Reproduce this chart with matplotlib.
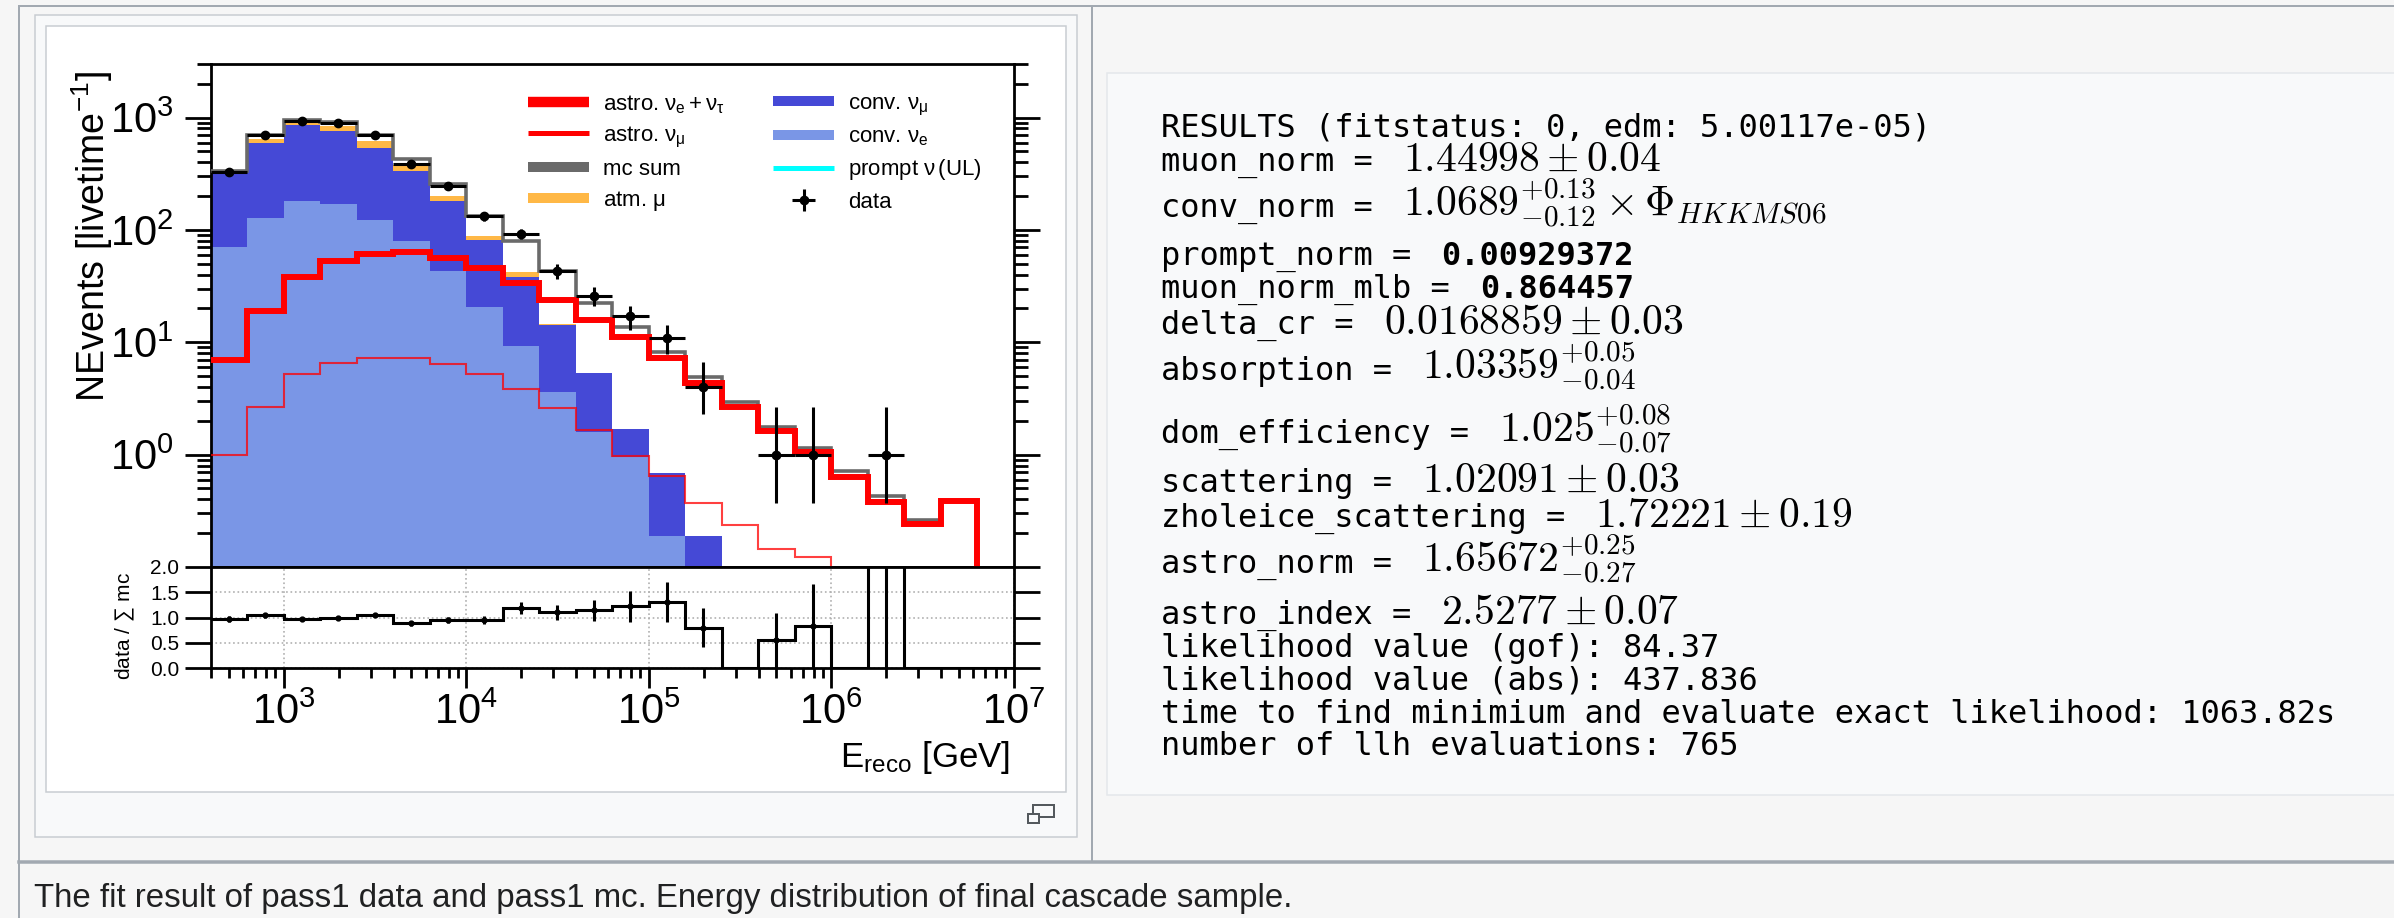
import numpy as np
import matplotlib
matplotlib.use("Agg")
import matplotlib.pyplot as plt
from matplotlib.patches import Rectangle
from matplotlib.lines import Line2D
from matplotlib.ticker import FixedLocator, LogLocator, NullFormatter, LogFormatterSciNotation

plt.rcParams['font.family'] = ['Liberation Sans', 'DejaVu Sans']
plt.rcParams['font.sans-serif'] = ['Liberation Sans']
plt.rcParams['mathtext.fontset'] = 'custom'
plt.rcParams['mathtext.rm'] = 'Liberation Sans'
plt.rcParams['mathtext.it'] = 'Liberation Sans'
plt.rcParams['mathtext.bf'] = 'Liberation Sans:bold'
plt.rcParams['mathtext.sf'] = 'Liberation Sans'

W, H = 2394, 918

# ---------------- data ----------------
log10_bin_edges = [2.6, 2.8, 3.0, 3.2, 3.4, 3.6, 3.8, 4.0, 4.2, 4.4, 4.6, 4.8,
                   5.0, 5.2, 5.4, 5.6, 5.8, 6.0, 6.2, 6.4, 6.6, 6.8, 7.0]
conv_nue = [71, 128, 180, 171, 122, 79, 43, 20.5, 9.3, 3.6, 1.6, 0.96, 0.19,
            0, 0, 0, 0, 0, 0, 0, 0, 0]
conv_numu = [251, 470, 673, 589, 417, 254, 137, 61.5, 28.7, 10.6, 3.7, 0.74, 0.49,
             0.19, 0, 0, 0, 0, 0, 0, 0, 0]
atm_mu = [8, 51, 36, 82, 79, 42, 19, 7, 4, 0.3, 0, 0, 0, 0, 0, 0, 0, 0, 0, 0, 0, 0]
mc_sum = [333, 695, 953, 920, 695, 430, 259, 134, 79, 43, 22.5, 13.7, 8.2, 4.9,
          2.94, 1.78, 1.15, 0.71, 0.43, 0.26, 0.39, 0]
astro_nue_nutau = [6.9, 19.1, 38.4, 53.4, 61.3, 63, 56, 45.6, 34, 23.8, 15.7, 11.2,
                   7.2, 4.3, 2.65, 1.62, 1.05, 0.63, 0.38, 0.24, 0.39, 0]
astro_numu = [1.0, 2.65, 5.19, 6.55, 7.3, 7.26, 6.46, 5.19, 3.86, 2.61, 1.67, 0.98,
              0.64, 0.375, 0.237, 0.144, 0.123, 0, 0, 0, 0, 0]
data = [327, 695, 933, 901, 695, 383, 248, 132, 92, 43, 26, 17, 11, 4, 0, 1, 1, 0,
        1, 0, 0, 0]
data_err_lo = [18, 26, 31, 30, 26, 20, 16, 11.5, 9.6, 6.5, 5, 4.1, 3.2, 1.7, 0,
               0.63, 0.63, 0, 0.63, 0, 0, 0]
data_err_hi = [18, 26, 31, 30, 26, 20, 16, 11.5, 9.6, 6.5, 5, 4.1, 3.3, 2.7, 0,
               1.65, 1.65, 0, 1.65, 0, 0, 0]
ratio = [0.97, 1.04, 0.97, 1.0, 1.05, 0.885, 0.95, 0.95, 1.18, 1.1, 1.14, 1.22,
         1.31, 0.80, 0, 0.55, 0.84, 0, 2.3, 0, 0, 0]
ratio_err_lo = [0.05, 0.04, 0.03, 0.03, 0.04, 0.05, 0.06, 0.08, 0.12, 0.15, 0.2,
                0.3, 0.4, 0.39, 0, 0.55, 0.84, 0, 2.3, 0, 0, 0]
ratio_err_hi = [0.05, 0.04, 0.03, 0.03, 0.04, 0.05, 0.06, 0.08, 0.12, 0.15, 0.2,
                0.3, 0.4, 0.39, 0, 0.54, 0.82, 0, 2.0, 0, 0, 0]

legend_labels_1 = [r"astro. $\nu_{\rm e}+\nu_{\tau}$", r"astro. $\nu_{\mu}$",
                   "mc sum", r"atm. $\mu$"]
legend_labels_2 = [r"conv. $\nu_{\mu}$", r"conv. $\nu_{\rm e}$",
                   r"prompt $\nu\,$(UL)", "data"]

result_lines = [
    ("RESULTS (fitstatus: 0, edm: 5.00117e-05)", None, 136.7, "math"),
    ("muon_norm = ", r"$1.44998\pm0.04$", 171.3, "math"),
    ("conv_norm = ", r"$1.0689^{+0.13}_{-0.12}\times\Phi_{HKKMS06}$", 217.3, "math"),
    ("prompt_norm = ", "0.00929372", 265.0, "bold"),
    ("muon_norm_mlb = ", "0.864457", 298.3, "bold"),
    ("delta_cr = ", r"$0.0168859\pm0.03$", 334.0, "math"),
    ("absorption = ", r"$1.03359^{+0.05}_{-0.04}$", 380.0, "math"),
    ("dom_efficiency = ", r"$1.025^{+0.08}_{-0.07}$", 442.7, "math"),
    ("scattering = ", r"$1.02091\pm0.03$", 491.7, "math"),
    ("zholeice_scattering = ", r"$1.72221\pm0.19$", 527.3, "math"),
    ("astro_norm = ", r"$1.65672^{+0.25}_{-0.27}$", 573.3, "math"),
    ("astro_index = ", r"$2.5277\pm0.07$", 624.3, "math"),
    ("likelihood value (gof): 84.37", None, 657.3, "math"),
    ("likelihood value (abs): 437.836", None, 690.0, "math"),
    ("time to find minimium and evaluate exact likelihood: 1063.82s", None, 723.3, "math"),
    ("number of llh evaluations: 765", None, 755.0, "math"),
]
caption = "The fit result of pass1 data and pass1 mc. Energy distribution of final cascade sample."

# ---------------- colours ----------------
c_nue = '#7a96e6'
c_numu = '#4549d6'
c_mu = '#ffb846'
c_sum = '#6a6a6a'
c_red = '#ff0000'
c_prompt = '#00ffff'


def fx(x):
    return x / W


def fy(y):
    return 1 - y / H


fig = plt.figure(figsize=(W / 100, H / 100), dpi=100, facecolor='#f6f6f6')


def rect(x0, y0, x1, y1, fc, ec, lw=1.0, z=-5):
    r = Rectangle((fx(x0), fy(y1)), fx(x1) - fx(x0), fy(y0) - fy(y1),
                  transform=fig.transFigure, facecolor=fc, edgecolor=ec,
                  linewidth=lw * 0.72, zorder=z)
    fig.add_artist(r)


def hline(x0, x1, y, color, lw, z=-4):
    fig.add_artist(Line2D([fx(x0), fx(x1)], [fy(y), fy(y)], transform=fig.transFigure,
                          color=color, linewidth=lw * 0.72, zorder=z))


def vline(x, y0, y1, color, lw, z=-4):
    fig.add_artist(Line2D([fx(x), fx(x)], [fy(y0), fy(y1)], transform=fig.transFigure,
                          color=color, linewidth=lw * 0.72, zorder=z))


# page furniture
rect(35, 15, 1077, 837, '#f8f9fa', '#c8ccd1', 1.5)
rect(46, 26, 1066, 792, 'white', '#c8ccd1', 1.5)
rect(1107, 73, 2420, 795, '#f8f9fa', '#e4e7eb', 1.5)
hline(19, 2394, 6, '#a2a9b1', 2)
vline(19, 6, 918, '#a2a9b1', 2)
vline(1092, 6, 862, '#a2a9b1', 2)
hline(19, 2394, 862, '#a2a9b1', 3.5)
rect(1033, 805, 1054, 817, 'none', '#54595d', 2, z=-3)
rect(1028, 814, 1039, 823, '#f8f9fa', '#54595d', 2, z=-2)

# ---------------- axes ----------------
ax_l, ax_r = 210.7, 1013.7
ax = fig.add_axes([fx(ax_l), fy(567), (ax_r - ax_l) / W, (567 - 64) / H])
axr = fig.add_axes([fx(ax_l), fy(668), (ax_r - ax_l) / W, (668 - 567) / H], sharex=ax)

edges = 10 ** np.array(log10_bin_edges)
centers = 10 ** ((np.array(log10_bin_edges[:-1]) + np.array(log10_bin_edges[1:])) / 2)
floor = 1e-4

b1 = np.maximum(np.array(conv_nue, float), floor)
b2 = np.maximum(np.array(conv_nue) + np.array(conv_numu), floor)
b3 = np.maximum(np.array(conv_nue) + np.array(conv_numu) + np.array(atm_mu), floor)
ax.stairs(b1, edges, baseline=floor, fill=True, facecolor=c_nue, linewidth=0, zorder=1)
ax.stairs(b2, edges, baseline=b1, fill=True, facecolor=c_numu, linewidth=0, zorder=1.1)
ax.stairs(b3, edges, baseline=b2, fill=True, facecolor=c_mu, linewidth=0, zorder=1.2)
ax.stairs(np.maximum(np.array(mc_sum, float), floor), edges, baseline=None,
          color=c_sum, linewidth=2.6, zorder=3)
ax.stairs(np.maximum(np.array(astro_numu, float), floor), edges, baseline=None,
          color=c_red, alpha=0.75, linewidth=1.5, zorder=3.5)
ax.stairs(np.maximum(np.array(astro_nue_nutau, float), floor), edges, baseline=None,
          color=c_red, linewidth=4.3, zorder=4)

d = np.array(data, float)
m = d > 0
xlo = (centers - edges[:-1])[m]
xhi = (edges[1:] - centers)[m]
eb = ax.errorbar(centers[m], d[m], xerr=[xlo, xhi],
                 yerr=[np.array(data_err_lo)[m], np.array(data_err_hi)[m]],
                 fmt='o', color='k', ms=6, elinewidth=2.2, capsize=0, zorder=6)

ax.set_xscale('log')
ax.set_yscale('log')
ax.set_xlim(edges[0], 1e7)
ax.set_ylim(0.1, 3000)

ax.yaxis.set_major_locator(FixedLocator([1, 10, 100, 1000]))
ax.yaxis.set_major_formatter(LogFormatterSciNotation())
ax.yaxis.set_minor_locator(LogLocator(base=10, subs=np.arange(2, 10), numticks=100))
ax.yaxis.set_minor_formatter(NullFormatter())

for a in (ax, axr):
    for s in a.spines.values():
        s.set_linewidth(2.0)
    a.tick_params(which='both', direction='out', width=2.0, left=True, right=True,
                  top=False, labelright=False)

ax.tick_params(axis='y', which='major', length=18.5, labelsize=30, pad=8)
ax.tick_params(axis='y', which='minor', length=10)
ax.tick_params(axis='x', which='both', bottom=False, labelbottom=False)

# legend
h1 = [Line2D([], [], color=c_red, lw=7.5, solid_capstyle='butt'),
      Line2D([], [], color=c_red, lw=3.6, solid_capstyle='butt'),
      Line2D([], [], color=c_sum, lw=7.2, solid_capstyle='butt'),
      Line2D([], [], color=c_mu, lw=7.2, solid_capstyle='butt')]
h2 = [Line2D([], [], color=c_numu, lw=7.2, solid_capstyle='butt'),
      Line2D([], [], color=c_nue, lw=7.2, solid_capstyle='butt'),
      Line2D([], [], color=c_prompt, lw=3.6, solid_capstyle='butt'),
      eb]
legkw = dict(loc='upper left', frameon=False, fontsize=16, handlelength=2.75,
             handletextpad=0.63, labelspacing=0.41, borderpad=0, borderaxespad=0)
l1 = ax.legend(h1, legend_labels_1, bbox_to_anchor=((528 - ax_l) / 803, (567 - 93) / 503), **legkw)
ax.add_artist(l1)
l2 = ax.legend(h2, legend_labels_2, bbox_to_anchor=((773 - ax_l) / 803, (567 - 93) / 503), **legkw)

ax.set_ylabel(r"NEvents [livetime$^{-1}$]", fontsize=27)
ax.yaxis.set_label_coords((115 - ax_l) / 803, (567 - 236.5) / 503)

# ratio panel
r = np.array(ratio, float)
axr.stairs(r, edges, baseline=None, color='k', linewidth=2.2, zorder=4)
mr = d > 0
axr.errorbar(centers[mr], r[mr],
             yerr=[np.array(ratio_err_lo)[mr], np.array(ratio_err_hi)[mr]],
             fmt='o', color='k', ms=3.5, elinewidth=2.2, capsize=0, zorder=5)
axr.set_ylim(0, 2.0)
axr.set_yticks([0.0, 0.5, 1.0, 1.5, 2.0])
axr.set_yticklabels(['0.0', '0.5', '1.0', '1.5', '2.0'])
axr.xaxis.set_major_locator(LogLocator(base=10, numticks=20))
axr.xaxis.set_major_formatter(LogFormatterSciNotation())
axr.xaxis.set_minor_locator(LogLocator(base=10, subs=np.arange(2, 10), numticks=100))
axr.xaxis.set_minor_formatter(NullFormatter())
axr.tick_params(axis='y', which='major', length=18.5, labelsize=15, pad=4)
axr.tick_params(axis='x', which='major', length=14.5, labelsize=30, pad=3)
axr.tick_params(axis='x', which='minor', length=7.5)
axr.grid(True, which='major', linestyle=':', color='#b0b0b0', linewidth=1.2)
axr.set_axisbelow(True)
axr.set_ylabel(r"data / $\sum$ mc", fontsize=15)
axr.yaxis.set_label_coords((137 - ax_l) / 803, (668 - 626) / 101)
axr.set_xlabel(r"E$_{\rm reco}$ [GeV]", fontsize=25, ha='right', va='baseline')
axr.xaxis.set_label_coords((1010 - ax_l) / 803, (668 - 767) / 101)

# ---------------- results box ----------------
x0 = 1160.6
charw = 0.60205 * 23 * 100 / 72
for mono, extra, base, kind in result_lines:
    fig.text(fx(x0), fy(base), mono, family='DejaVu Sans Mono', fontsize=23,
             va='baseline', ha='left', color='black')
    if extra is not None:
        xe = x0 + len(mono) * charw + 11.5
        if kind == 'bold':
            fig.text(fx(xe), fy(base), extra, family='DejaVu Sans Mono', fontsize=23,
                     fontweight='bold', va='baseline', ha='left', color='black')
        else:
            fig.text(fx(xe), fy(base), extra, fontsize=30, math_fontfamily='cm',
                     va='baseline', ha='left', color='black')

fig.text(fx(34), fy(907), caption, fontsize=23.8, va='baseline', ha='left',
         color='#202122', family='Liberation Sans')

fig.savefig('out.png', dpi=100, facecolor=fig.get_facecolor())
